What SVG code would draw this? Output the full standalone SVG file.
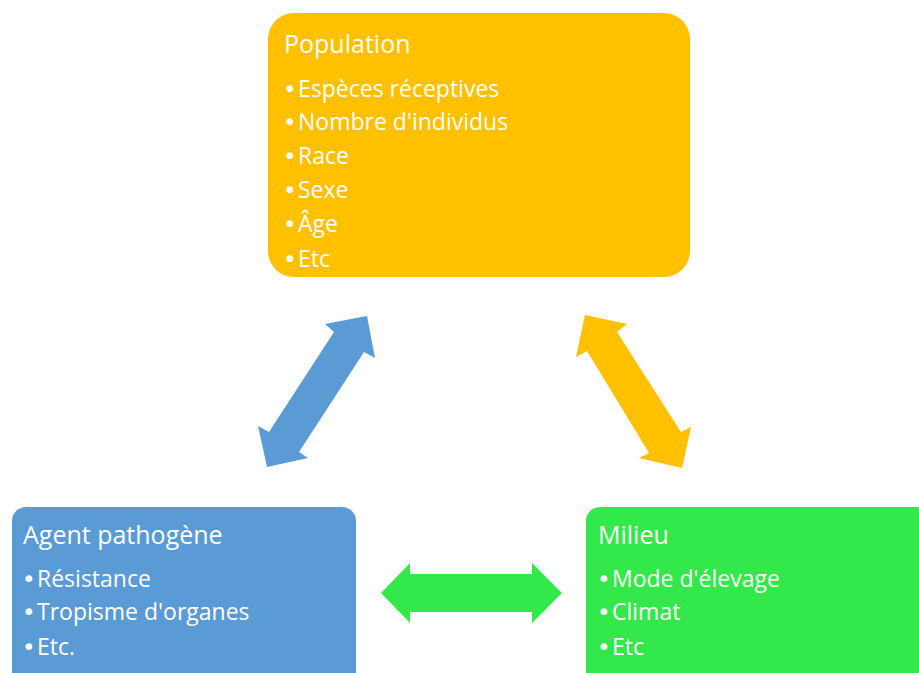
<svg xmlns="http://www.w3.org/2000/svg" width="919" height="673" viewBox="0 0 919 673">
<style>
text{font-family:"Open Sans","Noto Sans",sans-serif;fill:#fff}
.t{font-size:25px}
.b{font-size:23px}
.d{font-family:"DejaVu Sans",sans-serif}
</style>
<rect width="919" height="673" fill="#fff"/>
<g id="connectors">
<polygon id="arrow-pop-agent" fill="#5B9BD5" points="367,316 375,358 364,352 299,452 308,458 267,467 258,426 269,432 334,332 325,324"/>
<polygon id="arrow-pop-milieu" fill="#FFC000" points="585,315 627,324 617,332 681,432 691,427 682,468 639,458 649,453 587,351 576,357"/>
<polygon id="arrow-agent-milieu" fill="#32E84A" points="381,593 410,563 410,574 532,574 532,563 562,593 532,623 532,612 410,612 410,623"/>
</g>
<g id="population">
<rect x="268" y="13" width="422" height="264" rx="26" fill="#FFC000"/>
<text class="t" x="284" y="53">Population</text>
<text class="b" y="97"><tspan class="d" x="283">•</tspan><tspan x="298">Espèces réceptives</tspan></text>
<text class="b" y="130"><tspan class="d" x="283">•</tspan><tspan x="298">Nombre d'individus</tspan></text>
<text class="b" y="164"><tspan class="d" x="283">•</tspan><tspan x="298">Race</tspan></text>
<text class="b" y="198"><tspan class="d" x="283">•</tspan><tspan x="298">Sexe</tspan></text>
<text class="b" y="232"><tspan class="d" x="283">•</tspan><tspan x="298">Âge</tspan></text>
<text class="b" y="267"><tspan class="d" x="283">•</tspan><tspan x="298">Etc</tspan></text>
</g>
<g id="agent">
<rect x="12" y="507" width="344" height="190" rx="14" fill="#5B9BD5"/>
<text class="t" x="23" y="544">Agent pathogène</text>
<text class="b" y="587"><tspan class="d" x="22">•</tspan><tspan x="37">Résistance</tspan></text>
<text class="b" y="620"><tspan class="d" x="22">•</tspan><tspan x="37">Tropisme d'organes</tspan></text>
<text class="b" y="655"><tspan class="d" x="22">•</tspan><tspan x="37">Etc.</tspan></text>
</g>
<g id="milieu">
<rect x="586" y="507" width="350" height="190" rx="14" fill="#32E84A"/>
<text class="t" x="598" y="544">Milieu</text>
<text class="b" y="587"><tspan class="d" x="597">•</tspan><tspan x="612">Mode d'élevage</tspan></text>
<text class="b" y="620"><tspan class="d" x="597">•</tspan><tspan x="612">Climat</tspan></text>
<text class="b" y="655"><tspan class="d" x="597">•</tspan><tspan x="612">Etc</tspan></text>
</g>
</svg>
